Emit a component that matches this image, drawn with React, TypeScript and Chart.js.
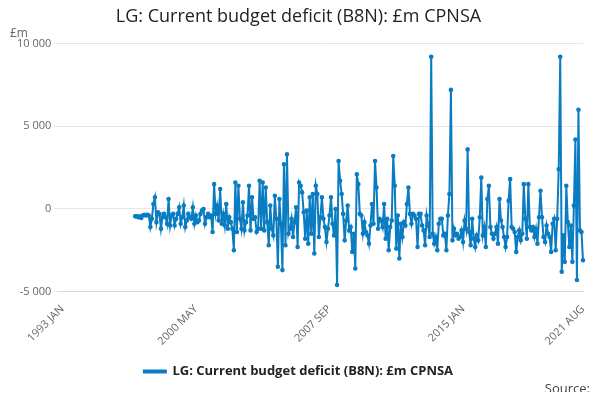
import React, { useEffect, useRef } from "react";
import { Chart, registerables } from "chart.js";
Chart.register(...registerables);

const MONTHS = ["JAN","FEB","MAR","APR","MAY","JUN","JUL","AUG","SEP","OCT","NOV","DEC"];
const labels: string[] = [];
for (let y = 1993; y <= 2021; y++) for (let m = 0; m < 12; m++) { if (y === 2021 && m > 7) break; labels.push(`${y} ${MONTHS[m]}`); }
const shownTicks = ["1993 JAN", "2000 MAY", "2007 SEP", "2015 JAN", "2021 AUG"];
const leadingGap: (number | null)[] = new Array(48).fill(null);
const v1997 = [-450,-450,-500,-450,-550,-400,-350,-400,-350,-400,-1100,-600];
const v1998 = [300,700,-800,-200,-300,-1200,-500,-300,-500,-900,600,-1000];
const v1999 = [-400,-300,-1000,-600,-300,100,-900,-500,200,-1100,-700,-300];
const v2000 = [-500,-600,100,-900,-400,-800,-700,-300,-100,0,-900,-500];
const v2001 = [-300,-500,-400,-1400,1500,-300,200,-700,1200,-900,-300,-1000];
const v2002 = [300,-1200,-500,-800,-1200,-2500,1600,-1400,1400,-600,-1200,400];
const v2003 = [-1300,-800,-400,1400,-1300,700,-600,-500,-1400,-1200,1700,-1200];
const v2004 = [1600,-1300,1300,-800,-2200,200,-1200,-1600,800,-600,-3500,600];
const v2005 = [-900,-3700,2700,-2200,3300,-1500,-1200,-600,-1700,-800,100,-2300];
const v2006 = [1600,1400,1000,-200,-1800,-100,-2100,700,-1500,900,-2700,1400];
const v2007 = [900,-1700,-500,700,-600,-1100,-2000,-1200,-400,700,-900,-1600];
const v2008 = [0,-4600,2900,1700,900,-300,-1900,-700,200,-1300,-1100,-2600];
const v2009 = [-1500,-3600,2100,1500,-300,-400,-1500,-800,-1400,-1600,-2100,-1000];
const v2010 = [300,-900,2900,1300,-1200,-600,-700,-1100,300,-1800,-600,-2500];
const v2011 = [-1100,-700,3200,1400,-2400,-400,-3000,-900,-1700,-800,-1000,300];
const v2012 = [1300,-300,-900,-300,-400,-600,-2300,-300,-300,-1000,-1300,-2200];
const v2013 = [-400,-1000,-1700,9200,-1500,-2100,-1700,-2500,-900,-600,-600,-1600];
const v2014 = [-1500,-2500,-400,900,7200,-1900,-1200,-1600,-1500,-1800,-1700,-1300];
const v2015 = [-2000,-700,-1200,3600,-1400,-2200,-600,-1800,-2300,-1600,-1900,-500];
const v2016 = [1900,-1600,-1100,-2300,600,1400,-1100,-1500,-1800,-1500,-1100,-2100];
const v2017 = [600,-700,-1100,-1700,-2300,-1700,500,1800,-1100,-1200,-1400,-2600];
const v2018 = [-1700,-1300,-1900,-1500,1500,-600,-1800,1500,-1100,-1300,-1100,-1700];
const v2019 = [-1200,-2100,-500,1100,-500,-1700,-2000,-1000,-1500,-1700,-2600,-900];
const v2020 = [-600,-2500,-600,2400,9200,-3800,-1600,-3200,1400,-800,-2300,-1000];
const v2021 = [-3200,200,4200,-4300,6000,-1300,-1400,-3100];
const values = [...leadingGap, ...v1997, ...v1998, ...v1999, ...v2000, ...v2001, ...v2002, ...v2003, ...v2004, ...v2005, ...v2006, ...v2007, ...v2008, ...v2009, ...v2010, ...v2011, ...v2012, ...v2013, ...v2014, ...v2015, ...v2016, ...v2017, ...v2018, ...v2019, ...v2020, ...v2021];

const FONT = "'Open Sans', sans-serif";
const COLOR = "#0a7cc1";

export default function App() {
  const ref = useRef<HTMLCanvasElement>(null);
  useEffect(() => {
    const chart = new Chart(ref.current!, {
      type: "line",
      data: {
        labels,
        datasets: [{
          label: "LG: Current budget deficit (B8N): £m CPNSA",
          data: values,
          borderColor: COLOR,
          backgroundColor: COLOR,
          borderWidth: 2,
          pointRadius: 1.3,
          pointHoverRadius: 1.3,
          tension: 0,
        }],
      },
      options: {
        animation: false,
        responsive: false,
        layout: { padding: { left: 14, right: 17, top: 0, bottom: 12 } },
        plugins: {
          title: { display: true, text: "LG: Current budget deficit (B8N): £m CPNSA", color: "#222", font: { family: FONT, size: 18, weight: "normal" }, padding: { top: 6, bottom: 16 } },
          legend: { position: "bottom", labels: { color: "#222", font: { family: FONT, size: 13, weight: "bold" }, boxWidth: 22, boxHeight: 2, padding: 14 } },
          tooltip: { enabled: false },
        },
        scales: {
          x: {
            grid: { display: false },
            border: { color: "#ccd6eb" },
            ticks: {
              autoSkip: false, maxRotation: 45, minRotation: 45, color: "#666",
              font: { family: FONT, size: 11 },
              callback: (_v: any, i: number) => (shownTicks.includes(labels[i]) ? labels[i] : null),
            },
          },
          y: {
            min: -5000, max: 10000,
            grid: { color: "#e6e6e6" },
            border: { display: false },
            ticks: {
              stepSize: 5000, color: "#666", font: { family: FONT, size: 11 },
              callback: (v: any) => { const n = Number(v); const s = Math.abs(n).toString().replace(/\B(?=(\d{3})+(?!\d))/g, " "); return (n < 0 ? "-" : "") + s; },
            },
          },
        },
      },
    });
    return () => chart.destroy();
  }, []);
  return (
    <div style={{ position: "relative", width: 600, height: 400, margin: -8, fontFamily: FONT }}>
      <canvas ref={ref} width={600} height={400} />
      <div style={{ position: "absolute", left: 10, top: 24, fontSize: 12, color: "#666" }}>£m</div>
      <div style={{ position: "absolute", right: 10, top: 379, fontSize: 13, color: "#444" }}>Source:</div>
    </div>
  );
}
